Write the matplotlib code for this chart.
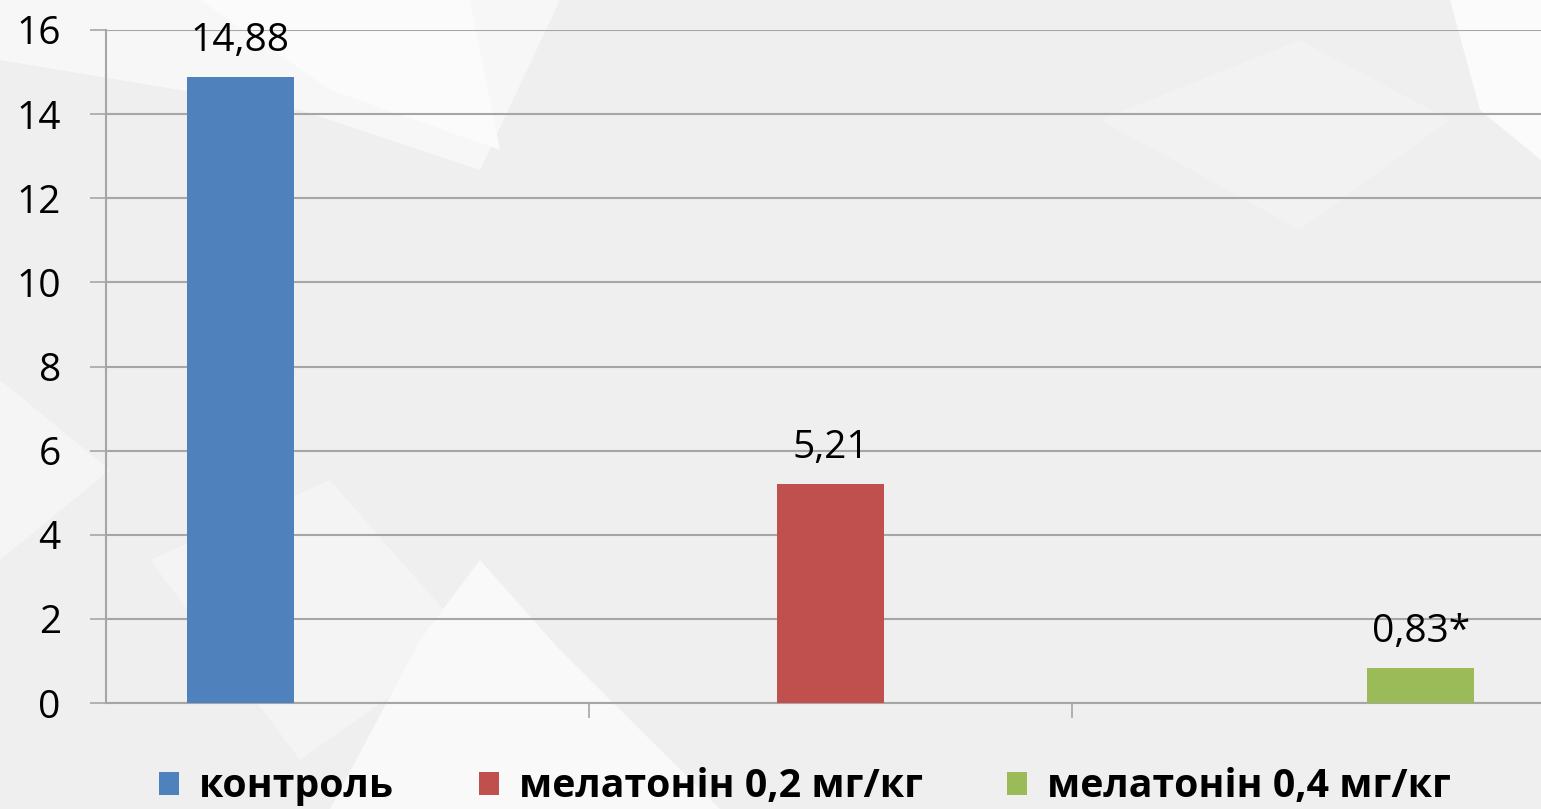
import matplotlib
matplotlib.use("Agg")
import matplotlib.pyplot as plt
from matplotlib.patches import Polygon
import numpy as np

categories = ["контроль", "мелатонін 0,2 мг/кг", "мелатонін 0,4 мг/кг"]
series_names = ["контроль", "мелатонін 0,2 мг/кг", "мелатонін 0,4 мг/кг"]
series_values = [
    [14.88, np.nan, np.nan],
    [np.nan, 5.21, np.nan],
    [np.nan, np.nan, 0.83],
]
value_labels = ["14,88", "5,21", "0,83*"]
colors = ["#4f81bd", "#c0504d", "#9bbb59"]
yticks = [0, 2, 4, 6, 8, 10, 12, 14, 16]

plt.rcParams['font.family'] = ['Open Sans', 'DejaVu Sans']

W, H = 1541, 809
fig = plt.figure(figsize=(W / 100, H / 100), dpi=100)
fig.patch.set_facecolor("#efefef")

def px(pts):
    return [(xx / W, 1 - yy / H) for xx, yy in pts]

# subtle decorative background shapes (pixel coords, y downward)
bg = [
    ([(0, 0), (560, 0), (480, 170), (300, 110), (0, 60)], "#f7f7f7"),
    ([(200, 0), (470, 0), (500, 150), (330, 90)], "#fbfbfb"),
    ([(0, 380), (110, 470), (0, 560)], "#f5f5f5"),
    ([(150, 560), (330, 480), (470, 640), (300, 760)], "#f4f4f4"),
    ([(330, 809), (420, 640), (480, 560), (560, 650), (720, 809)], "#f9f9f9"),
    ([(1450, 0), (1541, 0), (1541, 160), (1480, 110)], "#fbfbfb"),
    ([(1100, 120), (1300, 40), (1450, 120), (1300, 230)], "#f2f2f2"),
]
for pts, c in bg:
    fig.patches.append(Polygon(px(pts), closed=True, transform=fig.transFigure,
                               facecolor=c, edgecolor="none", zorder=-10))

x_left = 106
cat_w = 483
left = x_left / W
bottom = 1 - 703 / H
top = 1 - 30 / H
ax = fig.add_axes([left, bottom, 3 * cat_w / W, top - bottom])
ax.set_facecolor("none")
ax.set_zorder(1)

x = np.arange(len(categories))
width = 0.222
offsets = [-width, 0.0, width]
for i, (name, vals, col) in enumerate(zip(series_names, series_values, colors)):
    ax.bar(x + offsets[i], vals, width=width, color=col, label=name, zorder=3)
    for xi, v in zip(x + offsets[i], vals):
        if not np.isnan(v):
            ax.text(xi, v + 0.4, value_labels[i], ha="center", va="bottom",
                    fontsize=28, color="black", zorder=4)

ax.set_xlim(-0.5, 2.5)
ax.set_ylim(0, 16)
ax.set_yticks(yticks)
ax.set_yticklabels([str(t) for t in yticks], fontsize=28)
ax.yaxis.grid(True, color="#a6a6a6", linewidth=1.5, zorder=1)
ax.set_axisbelow(True)

ax.set_xticks([0.5, 1.5])
ax.set_xticklabels([])
ax.tick_params(axis="x", length=11, width=1.2, color="#a6a6a6", direction="out")
ax.tick_params(axis="y", length=11.5, width=1.2, color="#a6a6a6", direction="out", pad=21)

for s in ["top", "right"]:
    ax.spines[s].set_visible(False)
for s in ["left", "bottom"]:
    ax.spines[s].set_color("#a6a6a6")
    ax.spines[s].set_linewidth(1.5)

leg = fig.legend(loc="center", bbox_to_anchor=(805 / W, 1 - 787 / H), ncol=3,
                 frameon=False, prop={"weight": "bold", "size": 28.3},
                 handlelength=0.51, handleheight=0.55, handletextpad=0.51,
                 columnspacing=2.15)

fig.savefig("out.png", dpi=100, facecolor=fig.get_facecolor())
